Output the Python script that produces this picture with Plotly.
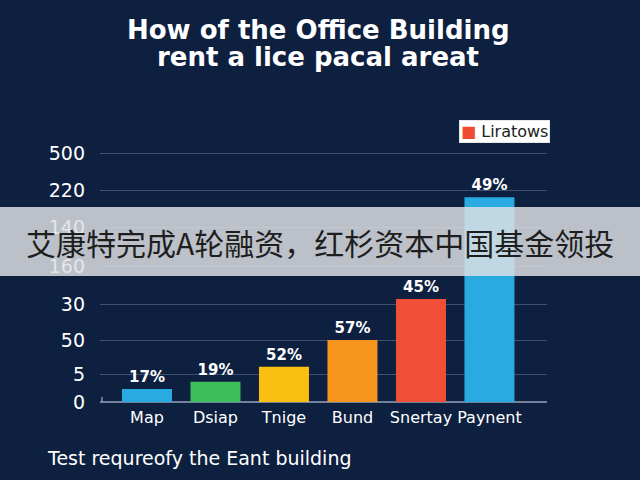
import plotly.graph_objects as go

# ---- data ----
categories = ["Map", "Dsiap", "Tnige", "Bund", "Snertay", "Paynent"]
bar_values = [13, 20.3, 35.3, 62, 103, 204.7]          # heights on the chart's axis
pct_labels = ["17%", "19%", "52%", "57%", "45%", "49%"]
bar_colors = ["#29abe2", "#3cbf5a", "#fbbf12", "#f7941d", "#f04e37", "#29abe2"]
tick_vals = [0, 27.7, 61.7, 98, 136, 174.3, 212, 248.7]
tick_text = ["0", "5", "50", "30", "160", "140", "220", "500"]
legend_name = "Liratows"
title_lines = ["How of the Office Building", "rent a lice pacal areat"]
footer_text = "Test requreofy the Eant building"
banner_text = "艾康特完成A轮融资，红杉资本中国基金领投"

BG = "#0e2040"
W, H = 640, 480
L, R, T, B = 100, 93, 142, 78
pw = W - L - R
ph = H - T - B

def px_x(x):
    return (x - L) / pw

def px_y(y):
    return (H - B - y) / ph

fig = go.Figure()
fig.add_trace(go.Bar(
    x=categories, y=bar_values, marker=dict(color=bar_colors, line=dict(width=0)),
    text=pct_labels, textposition="outside", cliponaxis=False,
    textfont=dict(family="DejaVu Sans", size=15, color="white", weight="bold"),
    showlegend=False, width=0.73,
))

fig.update_layout(
    width=W, height=H,
    paper_bgcolor=BG, plot_bgcolor=BG,
    margin=dict(l=L, r=R, t=T, b=B, pad=0),
    showlegend=False,
    bargap=0.27,
)
fig.update_xaxes(
    range=[-0.686, 5.84], showgrid=False, showline=False, zeroline=False,
    tickfont=dict(family="DejaVu Sans", size=16, color="white"),
    ticks="", ticklabelstandoff=4, tickangle=0,
)
fig.update_yaxes(
    range=[0, ph], tickvals=tick_vals, ticktext=tick_text,
    showgrid=True, gridcolor="rgba(110,130,165,0.5)", gridwidth=1,
    zeroline=True, zerolinecolor="rgba(140,155,180,0.8)", zerolinewidth=1.5,
    showline=False, ticks="", ticklabelstandoff=14,
    tickfont=dict(family="DejaVu Sans", size=19, color="white"),
)

# title (two lines)
for txt, yy in zip(title_lines, [30, 57]):
    fig.add_annotation(text=txt, xref="paper", yref="paper",
                       x=px_x(318), y=px_y(yy), xanchor="center", yanchor="middle",
                       showarrow=False,
                       font=dict(family="DejaVu Sans", size=26, color="white", weight="bold"))

# legend box
fig.add_annotation(text="<span style='color:#ee4b30'>■</span> " + legend_name,
                   xref="paper", yref="paper", x=px_x(459), y=px_y(132),
                   xanchor="left", yanchor="middle", showarrow=False,
                   bgcolor="white", bordercolor="#e6e6e6", borderwidth=1, borderpad=1,
                   font=dict(family="DejaVu Sans", size=16, color="#222222"))

# small tick at the left end of the baseline
fig.add_shape(type="line", xref="paper", yref="paper",
              x0=px_x(102), x1=px_x(102), y0=px_y(402), y1=px_y(397),
              line=dict(color="rgba(140,155,180,0.9)", width=1.5))

# footer
fig.add_annotation(text=footer_text, xref="paper", yref="paper",
                   x=px_x(45), y=px_y(458), xanchor="left", yanchor="middle",
                   showarrow=False,
                   font=dict(family="DejaVu Sans", size=19, color="white"))

# translucent banner with caption
fig.add_shape(type="rect", xref="paper", yref="paper", layer="above",
              x0=px_x(0), x1=px_x(W), y0=px_y(276), y1=px_y(207),
              fillcolor="rgba(222,224,227,0.84)", line=dict(width=0))
fig.add_annotation(text=banner_text, xref="paper", yref="paper",
                   x=px_x(320), y=px_y(242), xanchor="center", yanchor="middle",
                   showarrow=False,
                   font=dict(family="Noto Sans CJK SC", size=30, color="#1e1e1e"))

fig.write_html("out.html", config={"displayModeBar": False},
               post_script="document.body.style.margin='0';")
